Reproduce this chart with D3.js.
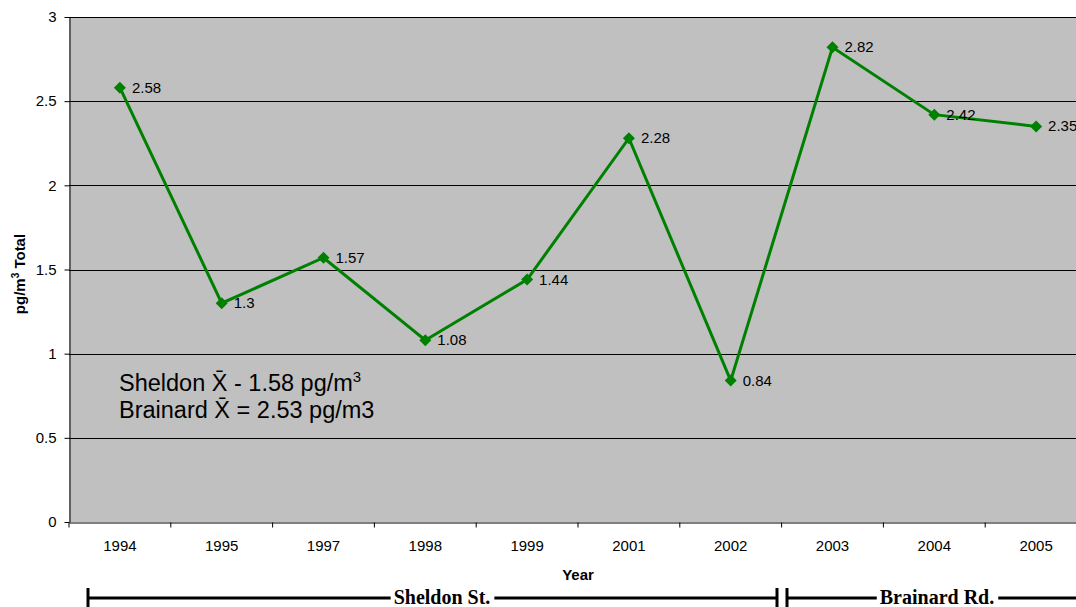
<!DOCTYPE html>
<html><head><meta charset="utf-8">
<script src="https://cdn.jsdelivr.net/npm/d3@7"></script>
<style>body{margin:0;background:#fff}svg{display:block}</style>
</head><body>
<svg id="c" width="1076" height="607" font-family="Arial, 'Liberation Sans', sans-serif"></svg>
<script>
const years = ["1994","1995","1997","1998","1999","2001","2002","2003","2004","2005"];
const values = [2.58,1.3,1.57,1.08,1.44,2.28,0.84,2.82,2.42,2.35];
const yTicks = [0,0.5,1,1.5,2,2.5,3];
const sites = [{name:"Sheldon St.", from:"1994", to:"2002"},{name:"Brainard Rd.", from:"2003", to:"2005"}];

const SANS = "Arial, 'Liberation Sans', sans-serif";
const svg = d3.select("#c");
const L=69, T=17, B=522, R=1087;
const x = d3.scaleBand().domain(years).range([L,R]);
const y = d3.scaleLinear().domain([0,3]).range([B,T]);

svg.append("rect").attr("x",L).attr("y",T).attr("width",R-L).attr("height",B-T).attr("fill","#C0C0C0");
svg.append("g").selectAll("line").data(yTicks.filter(d=>d>0)).join("line")
  .attr("x1",L).attr("x2",R).attr("y1",d=>Math.round(y(d))+0.5).attr("y2",d=>Math.round(y(d))+0.5)
  .attr("stroke","#000").attr("stroke-width",1);

const ya = svg.append("g").attr("transform",`translate(${L+0.5},0)`)
  .call(d3.axisLeft(y).tickValues(yTicks).tickFormat(d3.format("")).tickSize(5).tickSizeOuter(0));
const xa = svg.append("g").attr("transform",`translate(0,${B+0.5})`)
  .call(d3.axisBottom(x).tickSize(5).tickSizeOuter(0));
xa.selectAll(".tick line").attr("x1",-x.bandwidth()/2).attr("x2",-x.bandwidth()/2);
[ya,xa].forEach(a=>{a.attr("font-family",SANS).attr("font-size",15);a.selectAll("path,line").attr("stroke","#000");a.selectAll("text").attr("fill","#000");});
ya.selectAll("text").attr("x",-13);
xa.selectAll("text").attr("y",18);

const cx = d=>x(d)+x.bandwidth()/2;
svg.append("path").datum(values).attr("fill","none").attr("stroke","#008000").attr("stroke-width",3)
  .attr("d",d3.line().x((d,i)=>cx(years[i])).y(d=>y(d)));
svg.append("g").selectAll("path").data(values).join("path")
  .attr("transform",(d,i)=>`translate(${cx(years[i])},${y(d)})`)
  .attr("d","M0,-6L6,0L0,6L-6,0Z").attr("fill","#008000");
svg.append("g").selectAll("text").data(values).join("text")
  .attr("x",(d,i)=>cx(years[i])+12).attr("y",d=>y(d)+5)
  .attr("font-size",15).attr("fill","#000").text(d=>d);

// annotation
const ann = svg.append("text").attr("x",119).attr("y",391).attr("font-size",23.5).attr("fill","#000");
ann.append("tspan").text("Sheldon X\u0304 - 1.58 pg/m");
ann.append("tspan").attr("dy",-9).attr("font-size",15).text("3");
svg.append("text").attr("x",119).attr("y",418).attr("font-size",23.5).attr("fill","#000").text("Brainard X\u0304 = 2.53 pg/m3");

// axis titles
svg.append("text").attr("x",578).attr("y",580).attr("text-anchor","middle").attr("font-size",15).attr("font-weight","bold").text("Year");
const yt = svg.append("text").attr("transform","translate(25,274) rotate(-90)").attr("text-anchor","middle").attr("font-size",15).attr("font-weight","bold");
yt.append("tspan").text("pg/m");
yt.append("tspan").attr("dy",-6).attr("font-size",10).text("3");
yt.append("tspan").attr("dy",6).text(" Total");

// site brackets
const by = 598;
const bounds = [[88,777],[787,1100]];
sites.forEach((s,i)=>{
  const [a,b] = bounds[i];
  const g = svg.append("g");
  const t = g.append("text").attr("x",(i===0?442:937)).attr("y",by+6).attr("text-anchor","middle")
    .attr("font-family","'Liberation Serif','Times New Roman',serif").attr("font-weight","bold").attr("font-size",20).text(s.name);
  const w = t.node().getComputedTextLength();
  const tx = +t.attr("x");
  g.append("line").attr("x1",a).attr("x2",tx-w/2-3).attr("y1",by).attr("y2",by).attr("stroke","#000").attr("stroke-width",3);
  g.append("line").attr("x1",tx+w/2+4).attr("x2",b).attr("y1",by).attr("y2",by).attr("stroke","#000").attr("stroke-width",3);
  g.append("line").attr("x1",a).attr("x2",a).attr("y1",588).attr("y2",607).attr("stroke","#000").attr("stroke-width",3);
  if(i===0) g.append("line").attr("x1",b).attr("x2",b).attr("y1",588).attr("y2",607).attr("stroke","#000").attr("stroke-width",3);
});
</script>
</body></html>
